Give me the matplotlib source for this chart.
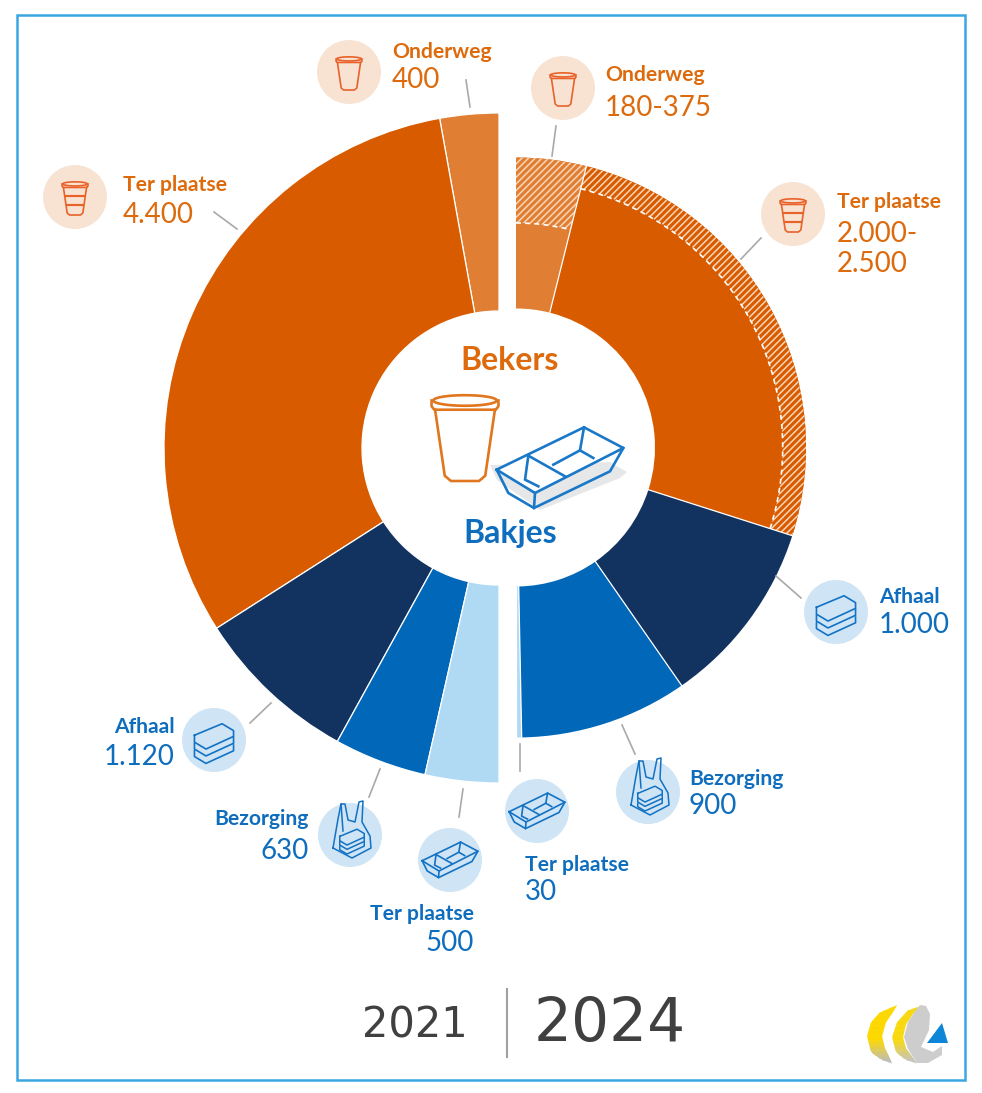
# Afval van wegwerpbekers en -bakjes: twee halve donuts, 2021 links en 2024 rechts

import numpy as np
import matplotlib
matplotlib.use('Agg')
import matplotlib.pyplot as plt
from matplotlib.colors import to_rgb
from matplotlib.patches import Wedge, Circle, Arc, Polygon, Rectangle

plt.rcParams['font.family'] = ['Lato', 'DejaVu Sans']
plt.rcParams['hatch.linewidth'] = 1.1

# 2021, left half, going counter-clockwise from the top
names_2021 = ['Onderweg', 'Ter plaatse', 'Afhaal', 'Bezorging', 'Ter plaatse']
values_2021 = [400, 4400, 1120, 630, 500]
colors_2021 = ['#e07f33', '#d95b00', '#12335f', '#0067b9', '#b0d9f4']

# 2024, right half, going clockwise from the top
names_2024 = ['Onderweg', 'Ter plaatse', 'Afhaal', 'Bezorging', 'Ter plaatse']
values_2024 = [375, 2500, 1000, 900, 30]
low_2024 = [180, 2000, 1000, 900, 30]  # lower end of the range, rest is hatched
colors_2024 = ['#e07f33', '#d95b00', '#12335f', '#0067b9', '#b0d9f4']

ORANGE = '#dd6a0c'
BLUE = '#0f6dbd'
ORANGE_BG = '#f8e3d3'
BLUE_BG = '#cfe4f4'

fig = plt.figure(figsize=(9.82, 10.93), dpi=100)
ax = fig.add_axes([0, 0, 1, 1])
ax.set_xlim(0, 982)
ax.set_ylim(1093, 0)  # y runs down, so angles run clockwise
ax.axis('off')

ax.add_patch(Rectangle((17, 15), 948, 1065, fc='none', ec='#3aa6e2', lw=1.8))

cx_l, cy_l, R_l, R0_l = 499, 448, 335, 137
cx_r, cy_r, R_r, R0_r = 516, 447.5, 290, 139


def rad_for(low, high):
    # radius where the ring area equals low/high of the whole ring
    return np.sqrt(R0_r**2 + (R_r**2 - R0_r**2) * low / high)


# left half
scale_l = 180. / sum(values_2021)
a = -90.
for v, c in zip(values_2021, colors_2021):
    b = a - v * scale_l
    ax.add_patch(Wedge((cx_l, cy_l), R_l, b, a, width=R_l - R0_l, fc=c, ec='white', lw=0.9))
    a = b

# right half
scale_r = 180. / sum(values_2024)
a = -90.
for v, lo, c in zip(values_2024, low_2024, colors_2024):
    b = a + v * scale_r
    if lo < v:
        r = rad_for(lo, v)
        ax.add_patch(Wedge((cx_r, cy_r), R_r, a, b, width=R_r - R0_r, fc=c, lw=0))
        ax.add_patch(Wedge((cx_r, cy_r), R_r, a, b, width=R_r - r, fc=c, ec='#f9d5b8',
                           lw=0, hatch='/////'))
        ax.add_patch(Arc((cx_r, cy_r), 2 * r, 2 * r, theta1=a, theta2=b, color='white',
                         lw=1.2, ls=(0, (3, 2.5))))
    else:
        ax.add_patch(Wedge((cx_r, cy_r), R_r, a, b, width=R_r - R0_r, fc=c, lw=0))
    # white separator
    t = np.deg2rad(b)
    ax.plot([cx_r + R0_r * np.cos(t), cx_r + R_r * np.cos(t)],
            [cy_r + R0_r * np.sin(t), cy_r + R_r * np.sin(t)], color='white', lw=0.9)
    a = b


def cup(x, y, s, col, lw=1.3, stripes=False, z=6):
    body = [(-0.68, -0.62), (-0.46, 0.88), (-0.32, 1.0), (0.32, 1.0), (0.46, 0.88), (0.68, -0.62)]
    ax.plot([x + p[0] * s for p in body], [y + p[1] * s for p in body], color=col, lw=lw, zorder=z)
    t = np.linspace(0, 2 * np.pi, 60)
    ax.plot(x + 0.72 * s * np.cos(t), y - 0.83 * s + 0.12 * s * np.sin(t), color=col, lw=lw, zorder=z)
    ax.plot(x + 0.76 * s * np.array([-1, -1, -0.92, 0.92, 1, 1]),
            y + s * np.array([-0.83, -0.7, -0.62, -0.62, -0.7, -0.83]), color=col, lw=lw, zorder=z)
    if stripes:
        for f in [-0.1, 0.4]:
            w = 0.62 - (f + 0.62) * 0.13
            ax.plot([x - w * s, x + w * s], [y + f * s, y + f * s], color=col, lw=lw * 1.3, zorder=z)


# tray lines in crop pixels of the big drawing, centred on (540, 415)
tray_lines = [
    [(350, 420), (612, 293), (730, 355), (465, 490), (350, 420)],
    [(350, 420), (385, 490), (462, 535), (465, 490)],
    [(462, 535), (690, 425), (730, 355)],
    [(445, 378), (555, 440)],
    [(445, 378), (435, 450), (475, 470)],
    [(520, 405), (600, 362), (640, 385)],
    [(612, 293), (600, 362)],
]


def tray(x, y, s, col, lw=1.3, z=6):
    for line in tray_lines:
        xs = [x + (p[0] - 540) / 3. * s for p in line]
        ys = [y + (p[1] - 415) / 3. * s for p in line]
        ax.plot(xs, ys, color=col, lw=lw, zorder=z, solid_joinstyle='round')


def stack(x, y, s, col, lw=1.2, z=6):
    top = np.array([(-17, -5), (7, -15), (17, -9), (17, -4), (-7, 7), (-17, 1), (-17, -5)], float)
    ax.plot(x + top[:, 0] * s, y + top[:, 1] * s, color=col, lw=lw, zorder=z,
            solid_joinstyle='round')
    for dy in [1, 7.5]:
        ax.plot(x + np.array([-17, -17, -7, 17, 17]) * s,
                y + (np.array([1, 6, 12, 1, -4]) + dy) * s, color=col, lw=lw, zorder=z,
                solid_joinstyle='round')


def bag(x, y, s, col, lw=1.1, z=6):
    out = np.array([(-17, 14), (-12, -15), (-9, -30), (-5, -30), (-2, -14), (5, -12), (9, -32),
                    (13, -33), (12, -12), (20, 2), (21, 14), (2, 24), (-17, 14)], float)
    ax.plot(x + out[:, 0] * s, y + out[:, 1] * s, color=col, lw=lw, zorder=z)
    stack(x + 2 * s, y + 6 * s, s * 0.72, col, lw=lw, z=z)
    ax.plot(x + np.array([-9, -7]) * s, y + np.array([-30, -3]) * s, color=col, lw=lw, zorder=z)


# grey shadow and big icons in the middle
ax.add_patch(Polygon([(490, 465), (497, 480), (540, 510), (620, 478), (627, 472), (610, 462)],
                     fc='#e6e7e8', ec='none', zorder=4))
cup(465, 437, 44, '#e0761d', lw=1.9)
ax.add_patch(Polygon([(497, 470), (584, 428), (624, 449), (535, 493)], fc='white', ec='none', zorder=5))
tray(560, 468, 1.0, '#1a78c8', lw=1.9)

ax.text(510, 360, 'Bekers', color=ORANGE, fontsize=23, fontweight='bold', ha='center', va='center', zorder=6)
ax.text(510, 534, 'Bakjes', color=BLUE, fontsize=23, fontweight='bold', ha='center', va='center', zorder=6)

# icon circles, (x, y, kind), same order as the labels below
circles = [(349, 72, 'cup'), (75, 197, 'cups'), (214, 740, 'stack'), (350, 835, 'bag'), (450, 860, 'tray'),
           (563, 88, 'cup'), (793, 214, 'cups'), (836, 612, 'stack'), (648, 792, 'bag'), (537, 811, 'tray')]
for x, y, kind in circles:
    oranje = kind.startswith('cup')
    ax.add_patch(Circle((x, y), 32, fc=ORANGE_BG if oranje else BLUE_BG, ec='none', zorder=4))
    if oranje:
        cup(x, y + 1, 17, '#e8622a', lw=1.2, stripes=kind == 'cups')
    elif kind == 'stack':
        stack(x, y + 1, 1.15, '#1272c4')
    elif kind == 'bag':
        bag(x, y - 1, 1.0, '#1272c4')
    else:
        tray(x, y, 0.44, '#1272c4', lw=1.2)

# leader lines
leaders = [((470, 107), (466, 80)), ((237, 229), (214, 212)), ((271, 703), (250, 723)),
           ((380, 769), (369, 797)), ((463, 789), (459, 817)), ((556, 126), (552, 156)),
           ((761, 238), (741, 259)), ((801, 598), (776, 576)), ((622, 725), (635, 754)),
           ((520, 744), (520, 771))]
for p, q in leaders:
    ax.plot([p[0], q[0]], [p[1], q[1]], color='#a9a9a9', lw=1.2, zorder=2)

# labels: name, value, x, y of name, y of value, align, colour
labels_2021 = [('Onderweg', '400', 392, 52, 80, 'left', ORANGE),
               ('Ter plaatse', '4.400', 123, 185, 215, 'left', ORANGE),
               ('Afhaal', '1.120', 175, 727, 757, 'right', BLUE),
               ('Bezorging', '630', 309, 819, 851, 'right', BLUE),
               ('Ter plaatse', '500', 474, 914, 943, 'right', BLUE)]
labels_2024 = [('Onderweg', '180-375', 605, 75, 108, 'left', ORANGE),
               ('Ter plaatse', '2.000-\n2.500', 837, 202, 249, 'left', ORANGE),
               ('Afhaal', '1.000', 879, 597, 625, 'left', BLUE),
               ('Bezorging', '900', 689, 779, 806, 'left', BLUE),
               ('Ter plaatse', '30', 525, 865, 892, 'left', BLUE)]
for name, val, x, y1, y2, al, col in labels_2021 + labels_2024:
    ax.text(x, y1, name, color=col, fontsize=15.2, fontweight='bold', ha=al, va='center')
    ax.text(x, y2, val, color=col, fontsize=20, ha=al, va='center', linespacing=1.15)

# years
ax.text(468, 1025, '2021', color='#404040', fontsize=30, family='DejaVu Sans', ha='right', va='center')
ax.plot([507, 507], [989, 1057], color='#a0a0a0', lw=1.5)
ax.text(534, 1024, '2024', color='#404040', fontsize=43, family='DejaVu Sans', ha='left', va='center')


def band(outer, inner, top_col, bottom_col, n=24):
    # crescent from two hand traced edges, colour fades going down
    outer, inner = np.array(outer, float), np.array(inner, float)
    ys = np.linspace(outer[0, 1], outer[-1, 1], n)
    xo = np.interp(ys, outer[:, 1], outer[:, 0])
    xi = np.interp(ys, inner[:, 1], inner[:, 0])
    c1, c2 = np.array(to_rgb(top_col)), np.array(to_rgb(bottom_col))
    for k in range(n - 1):
        f = max(0., (k / (n - 2.) - 0.6) / 0.4)
        ax.add_patch(Polygon([(xo[k], ys[k]), (xi[k], ys[k]), (xi[k + 1], ys[k + 1] + 0.5), (xo[k + 1], ys[k + 1] + 0.5)],
                             fc=c1 + (c2 - c1) * f, ec='none'))


# logo
band([(897, 1005), (880, 1012), (871, 1022), (867, 1036), (871, 1052), (882, 1060), (892, 1063)],
     [(897, 1005), (893, 1012), (886, 1022), (882, 1036), (885, 1048), (890, 1058), (892, 1063)],
     '#fdd800', '#bdbdbd')
band([(924, 1005), (908, 1010), (897, 1022), (892, 1037), (896, 1052), (906, 1060), (917, 1063)],
     [(924, 1005), (914, 1012), (906, 1024), (903, 1037), (906, 1048), (912, 1056), (917, 1063)],
     '#f8d90f', '#c4c4c4')
ax.add_patch(Polygon([(920, 1005), (926, 1006), (930, 1014), (929, 1030), (921, 1047), (933, 1052),
                      (942, 1046), (942, 1055), (928, 1063), (917, 1063), (908, 1049), (904, 1037),
                      (908, 1022), (915, 1011)], fc='#cdcdcd', ec='none'))
ax.add_patch(Polygon([(942, 1023), (927, 1043), (948, 1043)], fc='#0d86d8', ec='none'))

fig.savefig('out.png', dpi=100)
